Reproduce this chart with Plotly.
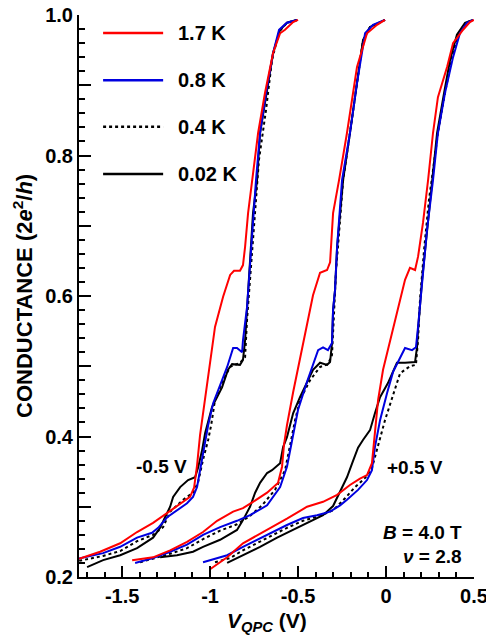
import plotly.graph_objects as go

# ---------------- data ----------------
temps = ["1.7 K", "0.8 K", "0.4 K", "0.02 K"]

# Left group (-0.5 V)
red_L_x = [-1.744,-1.625,-1.511,-1.415,-1.324,-1.244,-1.170,-1.114,-1.091,-1.074,-1.057,-1.028,-1.000,-0.972,-0.926,-0.886,-0.864,-0.830,-0.813,-0.801,-0.784,-0.761,-0.727,-0.688,-0.642,-0.602,-0.574,-0.528,-0.500]
red_L_y = [0.226,0.236,0.248,0.264,0.277,0.291,0.304,0.314,0.327,0.359,0.402,0.456,0.505,0.556,0.599,0.630,0.636,0.636,0.644,0.670,0.718,0.765,0.832,0.889,0.946,0.974,0.979,0.990,0.993]
blue_L_x = [-1.750,-1.608,-1.511,-1.415,-1.330,-1.295,-1.244,-1.188,-1.131,-1.097,-1.074,-1.057,-1.040,-1.011,-0.983,-0.955,-0.926,-0.903,-0.869,-0.847,-0.818,-0.813,-0.790,-0.773,-0.756,-0.739,-0.716,-0.682,-0.642,-0.608,-0.563,-0.506]
blue_L_y = [0.226,0.234,0.243,0.256,0.263,0.270,0.285,0.295,0.305,0.314,0.328,0.352,0.376,0.416,0.447,0.466,0.484,0.499,0.526,0.526,0.520,0.537,0.584,0.646,0.718,0.765,0.832,0.889,0.946,0.979,0.989,0.993]
dot_L_x = [-1.744,-1.608,-1.511,-1.415,-1.324,-1.267,-1.227,-1.153,-1.097,-1.068,-1.040,-1.011,-0.994,-0.972,-0.926,-0.886,-0.830,-0.801,-0.790,-0.773,-0.744,-0.722,-0.682,-0.648,-0.608,-0.563,-0.506]
dot_L_y = [0.223,0.230,0.237,0.251,0.260,0.271,0.293,0.310,0.320,0.335,0.367,0.395,0.416,0.452,0.480,0.499,0.505,0.513,0.566,0.623,0.718,0.794,0.865,0.936,0.976,0.989,0.993]
blk_L_x = [-1.699,-1.608,-1.511,-1.415,-1.324,-1.284,-1.256,-1.227,-1.210,-1.170,-1.125,-1.085,-1.068,-1.045,-1.028,-1.011,-0.989,-0.960,-0.932,-0.898,-0.875,-0.830,-0.813,-0.801,-0.790,-0.773,-0.756,-0.733,-0.716,-0.676,-0.642,-0.602,-0.563,-0.506]
blk_L_y = [0.214,0.224,0.231,0.241,0.256,0.270,0.285,0.300,0.314,0.328,0.338,0.342,0.356,0.381,0.405,0.423,0.442,0.456,0.470,0.495,0.503,0.502,0.509,0.537,0.584,0.647,0.718,0.765,0.832,0.893,0.946,0.979,0.989,0.993]

# Middle group (0 V)
red_M_x = [-1.443,-1.324,-1.227,-1.131,-1.040,-0.960,-0.869,-0.813,-0.756,-0.676,-0.614,-0.591,-0.580,-0.563,-0.528,-0.489,-0.449,-0.415,-0.375,-0.335,-0.318,-0.301,-0.267,-0.222,-0.165,-0.108,-0.051,-0.006]
red_M_y = [0.224,0.228,0.238,0.250,0.264,0.280,0.293,0.298,0.307,0.320,0.334,0.357,0.388,0.416,0.463,0.509,0.559,0.601,0.633,0.637,0.648,0.718,0.765,0.832,0.926,0.974,0.986,0.993]
blue_M_x = [-1.426,-1.324,-1.227,-1.131,-1.040,-0.943,-0.847,-0.773,-0.676,-0.602,-0.563,-0.534,-0.500,-0.449,-0.415,-0.386,-0.358,-0.330,-0.307,-0.301,-0.290,-0.278,-0.250,-0.205,-0.165,-0.119,-0.074,-0.006]
blue_M_y = [0.220,0.227,0.236,0.246,0.260,0.271,0.280,0.288,0.302,0.328,0.357,0.395,0.438,0.478,0.503,0.523,0.527,0.523,0.533,0.580,0.608,0.670,0.765,0.832,0.903,0.974,0.986,0.993]
dot_M_x = [-1.398,-1.324,-1.227,-1.131,-1.040,-0.943,-0.847,-0.773,-0.705,-0.631,-0.574,-0.545,-0.517,-0.489,-0.432,-0.375,-0.330,-0.307,-0.295,-0.284,-0.273,-0.244,-0.205,-0.165,-0.131,-0.091,-0.034,-0.006]
dot_M_y = [0.221,0.226,0.233,0.241,0.254,0.266,0.275,0.287,0.302,0.324,0.352,0.388,0.423,0.452,0.480,0.499,0.503,0.516,0.580,0.637,0.670,0.765,0.832,0.903,0.964,0.983,0.990,0.993]
blk_M_x = [-1.284,-1.188,-1.097,-1.040,-0.943,-0.847,-0.813,-0.773,-0.744,-0.716,-0.676,-0.648,-0.602,-0.585,-0.563,-0.528,-0.489,-0.449,-0.415,-0.375,-0.335,-0.318,-0.307,-0.301,-0.290,-0.278,-0.244,-0.205,-0.165,-0.131,-0.091,-0.034,-0.006]
blk_M_y = [0.228,0.231,0.236,0.243,0.253,0.267,0.281,0.300,0.320,0.334,0.348,0.352,0.362,0.385,0.399,0.433,0.456,0.476,0.495,0.505,0.502,0.506,0.533,0.580,0.608,0.670,0.765,0.832,0.903,0.964,0.983,0.990,0.993]

# Right group (+0.5 V)
red_R_x = [-1.000,-0.903,-0.813,-0.676,-0.563,-0.449,-0.358,-0.278,-0.205,-0.148,-0.108,-0.080,-0.063,-0.045,-0.017,0.006,0.062,0.108,0.136,0.165,0.182,0.210,0.239,0.267,0.295,0.347,0.381,0.438,0.477,0.500]
red_R_y = [0.211,0.228,0.248,0.267,0.283,0.300,0.307,0.317,0.331,0.340,0.345,0.362,0.409,0.452,0.495,0.519,0.576,0.623,0.640,0.637,0.656,0.704,0.765,0.832,0.883,0.926,0.960,0.979,0.990,0.993]
blue_R_x = [-1.040,-0.903,-0.813,-0.676,-0.563,-0.472,-0.392,-0.318,-0.261,-0.222,-0.159,-0.108,-0.080,-0.063,-0.034,0.006,0.040,0.068,0.108,0.148,0.170,0.182,0.205,0.233,0.267,0.295,0.335,0.381,0.420,0.460,0.494]
blue_R_y = [0.221,0.231,0.243,0.260,0.274,0.284,0.288,0.293,0.302,0.310,0.324,0.338,0.352,0.385,0.423,0.462,0.492,0.506,0.526,0.523,0.527,0.556,0.623,0.694,0.765,0.832,0.889,0.940,0.974,0.989,0.993]
dot_R_x = [-0.972,-0.886,-0.813,-0.676,-0.563,-0.472,-0.375,-0.301,-0.233,-0.176,-0.119,-0.080,-0.045,-0.006,0.040,0.080,0.136,0.170,0.182,0.193,0.216,0.244,0.267,0.295,0.335,0.375,0.415,0.455,0.494]
dot_R_y = [0.221,0.227,0.238,0.256,0.270,0.280,0.287,0.295,0.312,0.328,0.341,0.355,0.388,0.423,0.459,0.490,0.500,0.502,0.537,0.594,0.665,0.737,0.779,0.832,0.889,0.940,0.974,0.989,0.993]
blk_R_x = [-0.903,-0.813,-0.716,-0.619,-0.528,-0.432,-0.358,-0.301,-0.261,-0.222,-0.188,-0.159,-0.131,-0.091,-0.063,-0.034,0.011,0.062,0.108,0.165,0.176,0.182,0.205,0.233,0.261,0.290,0.330,0.364,0.403,0.449,0.494]
blk_R_y = [0.220,0.231,0.243,0.256,0.267,0.278,0.288,0.301,0.321,0.342,0.365,0.384,0.395,0.409,0.433,0.456,0.476,0.505,0.505,0.506,0.527,0.552,0.623,0.694,0.765,0.832,0.889,0.936,0.972,0.989,0.993]

x_tickvals = [-1.5, -1.0, -0.5, 0.0, 0.5]
x_ticktext = ["-1.5", "-1", "-0.5", "0", "0.5"]
y_tickvals = [0.2, 0.3, 0.4, 0.5, 0.6, 0.7, 0.8, 0.9, 1.0]
y_ticktext = ["0.2", "", "0.4", "", "0.6", "", "0.8", "", "1.0"]

# ---------------- styles ----------------
RED = "#ff0000"
BLUE = "#0000e0"
BLACK = "#000000"
FONT = "Liberation Sans, Arial, Helvetica, sans-serif"

styles = {
    "0.02 K": dict(color=BLACK, width=2, dash="solid"),
    "0.4 K": dict(color=BLACK, width=2, dash="dot"),
    "0.8 K": dict(color=BLUE, width=2, dash="solid"),
    "1.7 K": dict(color=RED, width=2, dash="solid"),
}

groups = [
    {"0.02 K": (blk_L_x, blk_L_y), "0.4 K": (dot_L_x, dot_L_y), "0.8 K": (blue_L_x, blue_L_y), "1.7 K": (red_L_x, red_L_y)},
    {"0.02 K": (blk_M_x, blk_M_y), "0.4 K": (dot_M_x, dot_M_y), "0.8 K": (blue_M_x, blue_M_y), "1.7 K": (red_M_x, red_M_y)},
    {"0.02 K": (blk_R_x, blk_R_y), "0.4 K": (dot_R_x, dot_R_y), "0.8 K": (blue_R_x, blue_R_y), "1.7 K": (red_R_x, red_R_y)},
]

fig = go.Figure()
for g in groups:
    for t in ["0.02 K", "0.4 K", "0.8 K", "1.7 K"]:
        xs, ys = g[t]
        fig.add_trace(go.Scatter(x=xs, y=ys, mode="lines", line=styles[t],
                                 showlegend=False, hoverinfo="skip"))

# manual legend (long sample lines as in the reference)
leg_y = [0.968, 0.884, 0.801, 0.717]
for t, yy in zip(temps, leg_y):
    st = styles[t]
    fig.add_shape(type="line", xref="paper", yref="paper", x0=0.061, x1=0.213, y0=yy, y1=yy,
                  line=dict(color=st["color"], width=2.5, dash=st["dash"]))
    fig.add_annotation(xref="paper", yref="paper", x=0.245, y=yy, text=t, showarrow=False,
                       xanchor="left", yanchor="middle", font=dict(size=20, family=FONT, weight="bold"))

fig.add_annotation(xref="paper", yref="paper", x=0.208, y=0.1975, text="-0.5 V", showarrow=False,
                   xanchor="center", yanchor="middle", font=dict(size=19, family=FONT, weight="bold"))
fig.add_annotation(xref="paper", yref="paper", x=0.851, y=0.1957, text="+0.5 V", showarrow=False,
                   xanchor="center", yanchor="middle", font=dict(size=19, family=FONT, weight="bold"))
fig.add_annotation(xref="paper", yref="paper", x=0.975, y=0.080, text="<i>B</i> = 4.0 T", showarrow=False,
                   xanchor="right", yanchor="middle", font=dict(size=19, family=FONT, weight="bold"))
fig.add_annotation(xref="paper", yref="paper", x=0.975, y=0.036, text="<i>ν</i> = 2.8", showarrow=False,
                   xanchor="right", yanchor="middle", font=dict(size=19, family=FONT, weight="bold"))

# axis titles as annotations for exact placement
fig.add_annotation(xref="paper", yref="paper", x=0.476, y=-0.080,
                   text="<i>V</i><sub><i>QPC</i></sub> (V)", showarrow=False,
                   xanchor="center", yanchor="middle", font=dict(size=21, family=FONT, weight="bold"))
fig.add_annotation(xref="paper", yref="paper", x=-0.142, y=0.5, textangle=-90,
                   text="CONDUCTANCE (2<i>e</i><sup>2</sup>/<i>h</i>)", showarrow=False,
                   xanchor="center", yanchor="middle", font=dict(size=22, family=FONT, weight="bold"))

fig.update_layout(
    width=486, height=637,
    margin=dict(l=79, r=12, t=15, b=60, autoexpand=False),
    paper_bgcolor="white", plot_bgcolor="white",
    font=dict(family=FONT, size=20, color="black", weight="bold"),
    showlegend=False,
)
fig.update_xaxes(
    range=[-1.745, 0.5], showgrid=False, zeroline=False, automargin=False,
    showline=True, linecolor="black", linewidth=2, mirror=False,
    ticks="inside", ticklen=11, tickwidth=1.5, tickcolor="black",
    tickmode="array", tickvals=x_tickvals, ticktext=x_ticktext,
    tickfont=dict(size=20, family=FONT, weight="bold"),
    minor=dict(ticks="inside", ticklen=5, tickwidth=1.5, tickcolor="black", tick0=0, dtick=0.1),
    ticklabeloverflow="allow",
)
fig.update_yaxes(
    range=[0.2, 1.0], showgrid=False, zeroline=False, automargin=False,
    showline=True, linecolor="black", linewidth=2, mirror=False,
    ticks="inside", ticklen=12, tickwidth=1.5, tickcolor="black",
    tickmode="array", tickvals=y_tickvals, ticktext=y_ticktext,
    tickfont=dict(size=20, family=FONT, weight="bold"),
    minor=dict(ticks="inside", ticklen=6, tickwidth=1.5, tickcolor="black", tick0=0.2, dtick=0.02),
    ticklabeloverflow="allow",
)

# remove the browser's default 8px body margin so the figure fills the window exactly
fig.write_html("out.html", config={"displayModeBar": False},
               post_script="document.body.style.margin='0';document.body.style.overflow='hidden';")
